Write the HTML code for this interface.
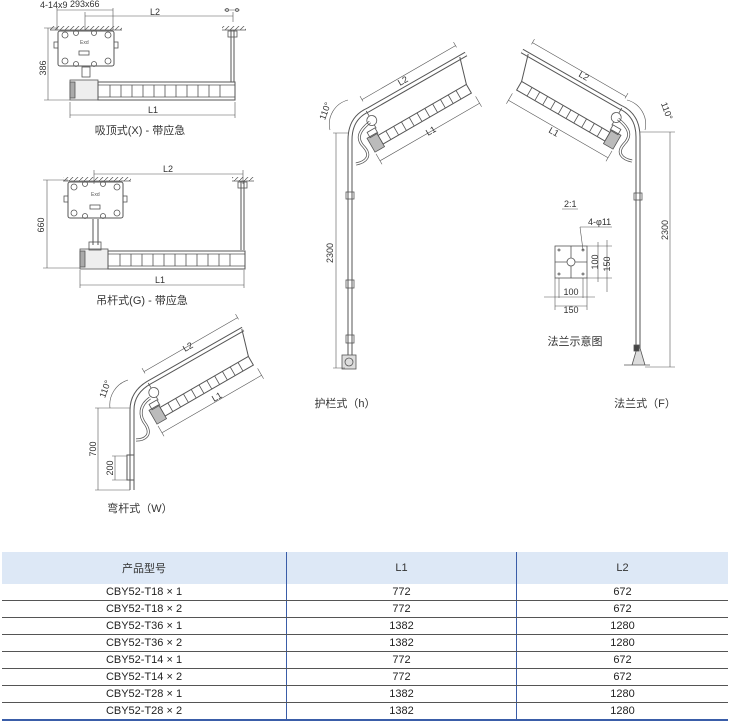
<!DOCTYPE html>
<html><head><meta charset="utf-8"><style>
html,body{margin:0;padding:0;background:#fff;}
body{width:730px;height:719px;position:relative;overflow:hidden;font-family:"Liberation Sans","Noto Sans CJK SC",sans-serif;}
svg{position:absolute;left:0;top:0;}
table{position:absolute;left:2px;top:552px;width:726px;border-collapse:collapse;font-size:11px;color:#222;}
td,th{text-align:center;padding:0;height:16px;border-bottom:1px solid #555;font-weight:normal;}
th{background:#dde8f6;height:32px;border-bottom:none;color:#333;}
td.c2,th.c2,td.c3,th.c3{border-left:1px solid #3a5da8;}
tr:last-child td{border-bottom:2px solid #3a5da8;}
</style></head><body>
<svg width="730" height="550" viewBox="0 0 730 550" font-family="Liberation Sans, Noto Sans CJK SC, sans-serif" fill="none" stroke="#555" stroke-width="0.8">
<defs>
<pattern id="h" width="5" height="5" patternUnits="userSpaceOnUse"><path d="M0,5 L5,0" stroke="#555" stroke-width="0.7"/></pattern>
<g id="lamp">
 <rect x="-4" y="27" width="102" height="10" stroke-width="1"/>
 <path d="M5,27v10M14,27v10M23,27v10M32,27v10M41,27v10M50,27v10M59,27v10M68,27v10M77,27v10M86,27v10"/>
 <rect x="-15" y="24" width="11" height="16" fill="#bbb"/>
 <rect x="-12" y="19" width="9" height="6"/>
 <circle cx="-2" cy="11" r="5"/><path d="M-2,0v6M-2,16v4"/>
 <path d="M106,0 L98,27" stroke-width="1"/>
 <path d="M0,-12 H108 M0,-16v6 M108,-16v6 M-15,50 H100 M-15,42v12 M100,42v12" stroke-width="0.6"/>
</g>
<g id="pole">
 <path d="M350,368 L350,140 Q350,118 368,110 L466,54" stroke="#555" stroke-width="5"/>
 <path d="M350,368 L350,140 Q350,118 368,110 L466,54" stroke="#fff" stroke-width="3"/>
 <path d="M370,122 C360,130 355,138 364,147 C372,156 366,162 356,164" stroke="#555" stroke-width="3"/>
 <path d="M370,122 C360,130 355,138 364,147 C372,156 366,162 356,164" stroke="#fff" stroke-width="1.5"/>
 <g transform="translate(368,110) rotate(-30)"><use href="#lamp"/></g>
</g>
</defs>

<!-- Drawing 1 -->
<g>
 <rect x="50" y="26" width="72" height="4" fill="url(#h)" stroke="none"/><path d="M50,30H122"/>
 <rect x="222" y="26" width="24" height="4" fill="url(#h)" stroke="none"/><path d="M222,30H246"/>
 <rect x="58" y="31" width="56" height="35" rx="2" stroke-width="1"/>
 <circle cx="65" cy="35" r="3"/><circle cx="108" cy="35" r="3"/><circle cx="65" cy="61" r="3"/><circle cx="108" cy="61" r="3"/><circle cx="76" cy="33" r="2.5"/><circle cx="94" cy="33" r="2.5"/><circle cx="76" cy="64" r="2.5"/><circle cx="94" cy="64" r="2.5"/>
 <rect x="54" y="42" width="4" height="6"/><rect x="114" y="42" width="4" height="6"/>
 <rect x="79" y="51" width="10" height="4"/>
 <text x="80" y="44" font-size="5" fill="#555" stroke="none">Exd</text>
 <rect x="82" y="67" width="8" height="10"/>
 <rect x="70" y="80" width="28" height="20" fill="#eee"/><rect x="70" y="82" width="5" height="16" fill="#aaa"/>
 <rect x="98" y="82" width="137" height="18" stroke-width="1"/>
 <path d="M98,85H235M98,97H235M110,85v12M121,85v12M132,85v12M143,85v12M154,85v12M165,85v12M176,85v12M187,85v12M198,85v12M209,85v12M220,85v12"/>
 <path d="M231,30V82M234,30V82" stroke-width="1"/><rect x="228" y="31" width="9" height="6"/>
 <path d="M48,28V100 M44,28H58 M44,100H70 M70,102V118 M235,102V118 M70,115H235 M85,16H233 M85,12V30 M233,12V22 M57,8V30 M113,8V30 M57,10H113 M224,10H240" stroke-width="0.6"/>
 <circle cx="227" cy="10" r="1.5"/><circle cx="237" cy="10" r="1.5"/>
 <g fill="#333" stroke="none" font-size="9">
  <text x="40" y="8">4-14x9</text><text x="70" y="7">293x66</text><text x="150" y="15">L2</text><text x="148" y="113">L1</text>
  <text x="46" y="68" transform="rotate(-90 46 68)" text-anchor="middle">386</text>
  <text x="140" y="134" font-size="11" text-anchor="middle">吸顶式(X) - 带应急</text>
 </g>
</g>

<!-- Drawing 2 -->
<g>
 <rect x="63" y="177" width="68" height="4" fill="url(#h)" stroke="none"/><path d="M63,181H131"/>
 <rect x="232" y="177" width="22" height="4" fill="url(#h)" stroke="none"/><path d="M232,181H254"/>
 <rect x="68" y="182" width="55" height="36" rx="2" stroke-width="1"/>
 <circle cx="74" cy="187" r="3"/><circle cx="117" cy="187" r="3"/><circle cx="74" cy="213" r="3"/><circle cx="117" cy="213" r="3"/><circle cx="85" cy="184" r="2.5"/><circle cx="103" cy="184" r="2.5"/><circle cx="85" cy="216" r="2.5"/><circle cx="103" cy="216" r="2.5"/>
 <rect x="64" y="196" width="4" height="6"/><rect x="123" y="196" width="4" height="6"/>
 <rect x="90" y="205" width="10" height="4"/>
 <text x="91" y="196" font-size="5" fill="#555" stroke="none">Exd</text>
 <path d="M93,219V245M98,219V245" stroke-width="1"/>
 <rect x="80" y="249" width="28" height="20" fill="#eee"/><rect x="80" y="251" width="5" height="16" fill="#aaa"/><rect x="89" y="242" width="12" height="8"/>
 <rect x="108" y="251" width="137" height="18" stroke-width="1"/>
 <path d="M108,254H245M108,266H245M120,254v12M131,254v12M142,254v12M153,254v12M164,254v12M175,254v12M186,254v12M197,254v12M208,254v12M219,254v12M230,254v12"/>
 <path d="M241,181V250M244,181V250" stroke-width="1"/><rect x="238" y="182" width="9" height="6"/>
 <path d="M47,180V268 M43,180H68 M43,268H80 M80,270V288 M244,270V288 M80,285H244 M94,174H243 M94,170V184 M243,170V184" stroke-width="0.6"/>
 <g fill="#333" stroke="none" font-size="9">
  <text x="163" y="172">L2</text><text x="155" y="283">L1</text>
  <text x="44" y="225" transform="rotate(-90 44 225)" text-anchor="middle">660</text>
  <text x="142" y="304" font-size="11" text-anchor="middle">吊杆式(G) - 带应急</text>
 </g>
</g>

<!-- Drawing W -->
<g>
 <path d="M132,490 L132,410 Q132,392 150,382 L243,329" stroke="#555" stroke-width="5"/>
 <path d="M132,490 L132,410 Q132,392 150,382 L243,329" stroke="#fff" stroke-width="3"/>
 <rect x="127" y="455" width="7" height="25" stroke-width="1"/>
 <path d="M150,398 C140,405 138,415 146,425 C152,435 145,440 136,440" stroke="#555" stroke-width="3"/>
 <path d="M150,398 C140,405 138,415 146,425 C152,435 145,440 136,440" stroke="#fff" stroke-width="1.5"/>
 <g transform="translate(150,382) rotate(-30)"><use href="#lamp"/></g>
 <path d="M95,408H130 M95,490H130 M98,408V490 M112,456H127 M112,480H127 M115,456V480" stroke-width="0.6"/>
 <path d="M110,408 A26,26 0 0 1 128,380" stroke-width="0.6"/>
 <g fill="#333" stroke="none" font-size="9">
  <text x="96" y="449" transform="rotate(-90 96 449)" text-anchor="middle">700</text>
  <text x="113" y="468" transform="rotate(-90 113 468)" text-anchor="middle">200</text>
  <text x="108" y="390" transform="rotate(-70 108 390)" text-anchor="middle">110°</text>
  <text x="185" y="352" transform="rotate(-30 185 352)">L2</text>
  <text x="214" y="402" transform="rotate(-30 214 402)">L1</text>
  <text x="140" y="512" font-size="11" text-anchor="middle">弯杆式（W）</text>
 </g>
</g>

<!-- Drawing h -->
<use href="#pole"/>
<rect x="346" y="192" width="8" height="7"/><rect x="346" y="280" width="8" height="8"/><rect x="346" y="335" width="8" height="8"/>
<rect x="342" y="355" width="14" height="14" fill="#ddd"/><circle cx="349" cy="362" r="4"/>
<path d="M333,133H348 M333,368H345 M336,133V368 M330,130 A25,25 0 0 1 348,100" stroke-width="0.6"/>
<g fill="#333" stroke="none" font-size="9">
 <text x="333" y="253" transform="rotate(-90 333 253)" text-anchor="middle">2300</text>
 <text x="328" y="112" transform="rotate(-70 328 112)" text-anchor="middle">110°</text>
 <text x="400" y="86" transform="rotate(-30 400 86)">L2</text>
 <text x="428" y="136" transform="rotate(-30 428 136)">L1</text>
 <text x="345" y="407" font-size="11" text-anchor="middle">护栏式（h）</text>
</g>

<!-- Drawing F (mirror) -->
<g transform="translate(988,-3) scale(-1,1)"><use href="#pole"/></g>
<rect x="634" y="193" width="8" height="7"/>
<path d="M624,365H650 M632,365L637,348H640L645,365" fill="#ddd"/><rect x="634" y="345" width="5" height="6" fill="#444"/>
<path d="M640,132H675 M645,367H675 M670,132V367 M645,130 A25,25 0 0 0 627,100" stroke-width="0.6"/>
<g fill="#333" stroke="none" font-size="9">
 <text x="668" y="230" transform="rotate(-90 668 230)" text-anchor="middle">2300</text>
 <text x="664" y="112" transform="rotate(70 664 112)" text-anchor="middle">110°</text>
 <text x="578" y="76" transform="rotate(30 578 76)">L2</text>
 <text x="548" y="132" transform="rotate(30 548 132)">L1</text>
 <text x="645" y="407" font-size="11" text-anchor="middle">法兰式（F）</text>
</g>

<!-- flange -->
<rect x="555" y="246" width="32" height="32" stroke-width="0.8"/>
<path d="M571,246V278M555,262H587"/>
<circle cx="571" cy="262" r="4" fill="#fff"/>
<circle cx="559" cy="250" r="1"/><circle cx="583" cy="250" r="1"/><circle cx="559" cy="274" r="1"/><circle cx="583" cy="274" r="1"/>
<path d="M562,209H578 M580,227H612 M580,227L583,250 M587,246H612 M587,278H612 M598,242V282 M607,240V292 M559,278V298 M583,278V298 M544,297H595 M555,278V310 M587,278V310 M555,306H587" stroke-width="0.6"/>
<g fill="#333" stroke="none" font-size="9">
 <text x="564" y="207">2:1</text>
 <text x="588" y="225">4-φ11</text>
 <text x="598" y="262" transform="rotate(-90 598 262)" text-anchor="middle">100</text>
 <text x="610" y="264" transform="rotate(-90 610 264)" text-anchor="middle">150</text>
 <text x="571" y="295" text-anchor="middle">100</text>
 <text x="571" y="313" text-anchor="middle">150</text>
 <text x="575" y="345" font-size="11" text-anchor="middle">法兰示意图</text>
</g>
</svg>

<table>
<tr><th>产品型号</th><th class="c2">L1</th><th class="c3">L2</th></tr>
<tr><td style="width:284px">CBY52-T18 × 1</td><td class="c2" style="width:229px">772</td><td class="c3">672</td></tr>
<tr><td>CBY52-T18 × 2</td><td class="c2">772</td><td class="c3">672</td></tr>
<tr><td>CBY52-T36 × 1</td><td class="c2">1382</td><td class="c3">1280</td></tr>
<tr><td>CBY52-T36 × 2</td><td class="c2">1382</td><td class="c3">1280</td></tr>
<tr><td>CBY52-T14 × 1</td><td class="c2">772</td><td class="c3">672</td></tr>
<tr><td>CBY52-T14 × 2</td><td class="c2">772</td><td class="c3">672</td></tr>
<tr><td>CBY52-T28 × 1</td><td class="c2">1382</td><td class="c3">1280</td></tr>
<tr><td>CBY52-T28 × 2</td><td class="c2">1382</td><td class="c3">1280</td></tr>
</table>
</body></html>
